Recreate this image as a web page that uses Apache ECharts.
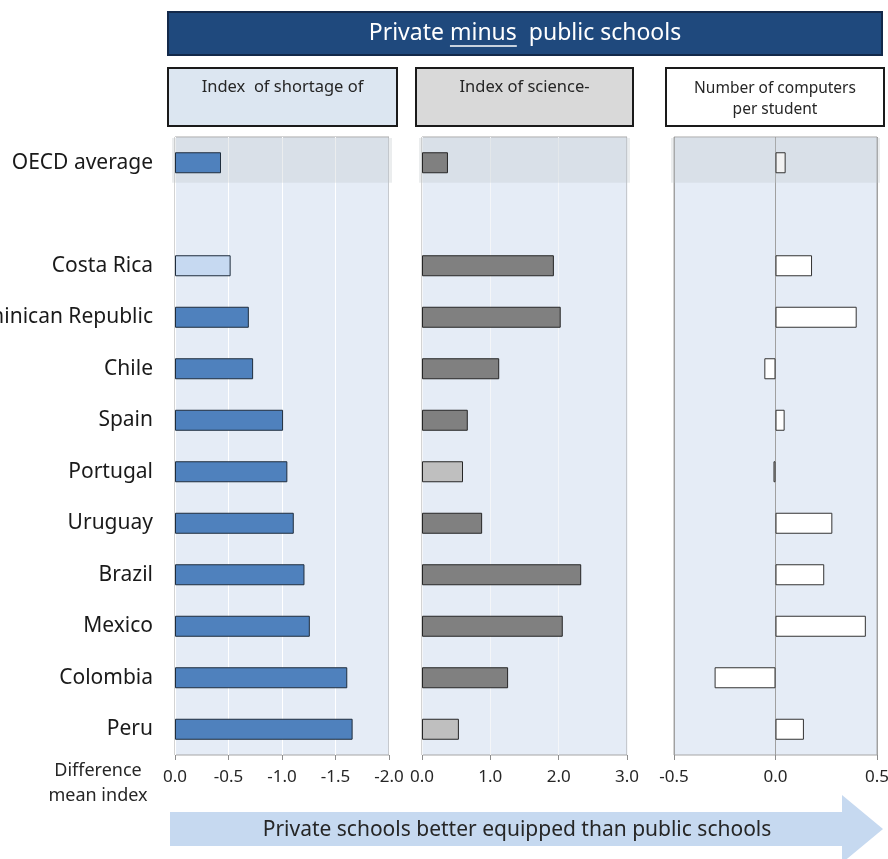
<!DOCTYPE html>
<html>
<head>
<meta charset="utf-8">
<script src="https://cdn.jsdelivr.net/npm/echarts@6/dist/echarts.min.js"></script>
<style>
html,body{margin:0;padding:0;background:#fff;}
#chart{width:888px;height:859px;}
</style>
</head>
<body>
<div id="chart"></div>
<script>
// ---- data ----
var categories = ['OECD average', '', 'Costa Rica', 'Dominican Republic', 'Chile', 'Spain', 'Portugal', 'Uruguay', 'Brazil', 'Mexico', 'Colombia', 'Peru'];
var shortageValues = [-0.43, null, -0.52, -0.69, -0.73, -1.01, -1.05, -1.11, -1.21, -1.26, -1.61, -1.66];
var shortageSignificant = [true, null, false, true, true, true, true, true, true, true, true, true];
var scienceValues = [0.38, null, 1.93, 2.03, 1.13, 0.67, 0.60, 0.88, 2.33, 2.06, 1.26, 0.54];
var scienceSignificant = [true, null, true, true, true, true, false, true, true, true, true, false];
var computerValues = [0.05, null, 0.18, 0.40, -0.055, 0.045, -0.01, 0.28, 0.24, 0.445, -0.30, 0.14];
var panelTitles = ['Index  of shortage of', 'Index of science-', 'Number of computers\nper student'];
var headerParts = ['Private ', 'minus', '  public schools'];
var axisNameText = 'Difference\nmean index';
var arrowText = 'Private schools better equipped than public schools';

// ---- styling ----
var FONT = 'Noto Sans';
var TXT = '#262626';

function fmt(v) { return v.toFixed(1); }

function itemData(values, fn) {
  return values.map(function (v, i) {
    if (v === null) return null;
    return { value: v, itemStyle: fn(i) };
  });
}

var p1Data = itemData(shortageValues, function (i) {
  return { color: shortageSignificant[i] ? '#4f81bd' : '#c6d9f1', borderColor: '#1f2d3d', borderWidth: 1 };
});
var p2Data = itemData(scienceValues, function (i) {
  return { color: scienceSignificant[i] ? '#808080' : '#bfbfbf', borderColor: '#262626', borderWidth: 1 };
});
var p3Data = itemData(computerValues, function (i) {
  return { color: i === 0 ? '#f2f2f2' : '#ffffff', borderColor: '#333333', borderWidth: 1 };
});

var grids = [
  { left: 175, top: 137, width: 214, height: 618 },
  { left: 422, top: 137, width: 205, height: 618 },
  { left: 674, top: 137, width: 203, height: 618 }
];
grids.forEach(function (g) {
  g.show = true; g.backgroundColor = '#e5ecf6'; g.borderColor = '#a6a6a6'; g.borderWidth = 1;
  g.containLabel = false; g.outerBoundsMode = 'none';
});

function xAxisCfg(idx, min, max, interval, inverse, splitColor) {
  return {
    type: 'value', gridIndex: idx, min: min, max: max, interval: interval, inverse: inverse,
    axisLine: { show: false },
    axisTick: { show: true, length: 5, lineStyle: { color: '#8c8c8c' } },
    axisLabel: { formatter: fmt, fontFamily: FONT, fontSize: 17, color: TXT, margin: 14, showMinLabel: true, showMaxLabel: true, hideOverlap: false },
    splitLine: { show: true, lineStyle: { color: splitColor, width: 1 } }
  };
}

function yAxisCfg(idx, showLabels, showLine) {
  return {
    type: 'category', gridIndex: idx, data: categories, inverse: true,
    axisTick: { show: false },
    axisLine: { show: showLine, onZero: true, lineStyle: { color: '#9a9a9a', width: 1.5 } },
    axisLabel: showLabels ? { show: true, fontFamily: FONT, fontSize: 21, color: '#1a1a1a', margin: 22, interval: 0 } : { show: false },
    splitLine: { show: false }
  };
}

function bandSeries(idx) {
  return {
    type: 'custom', xAxisIndex: idx, yAxisIndex: idx, silent: true, z: 1, clip: false,
    data: [[0]],
    renderItem: function (params, api) {
      var cs = params.coordSys;
      var center = api.coord([0, api.value(0)]);
      var band = api.size([0, 1])[1];
      var y0 = cs.y + 1;
      var y1 = center[1] + band * 0.39;
      return { type: 'rect', shape: { x: cs.x - 3, y: y0, width: cs.width + 6, height: y1 - y0 },
        style: { fill: 'rgba(190,195,200,0.3)' } };
    }
  };
}

function barSeries(idx, data) {
  return { type: 'bar', xAxisIndex: idx, yAxisIndex: idx, data: data, barWidth: 21, z: 3, silent: true };
}

// measure header for underline
var mctx = document.createElement('canvas').getContext('2d');
var HFONT = '23px "' + FONT + '"';
mctx.font = HFONT;
var wA = mctx.measureText(headerParts[0]).width;
var wB = mctx.measureText(headerParts[1]).width;
var wAll = mctx.measureText(headerParts.join('')).width;
var hCx = 168 + 714 / 2;
var hStart = hCx - wAll / 2;

var boxes = [
  { x: 168, w: 229, fill: '#dce6f1' },
  { x: 416, w: 217, fill: '#d9d9d9' },
  { x: 666, w: 218, fill: '#ffffff' }
];

var graphics = [
  { type: 'rect', shape: { x: 168, y: 12, width: 714, height: 43 }, style: { fill: '#1f497d', stroke: '#13294a', lineWidth: 2 }, z: 10 },
  { type: 'text', x: hCx, y: 33.5, style: { text: headerParts.join(''), font: HFONT, fill: '#ffffff', align: 'center', verticalAlign: 'middle' }, z: 11 },
  { type: 'line', shape: { x1: hStart + wA, y1: 46, x2: hStart + wA + wB, y2: 46 }, style: { stroke: '#ffffff', lineWidth: 1.5 }, z: 11 }
];
boxes.forEach(function (b, i) {
  graphics.push({ type: 'rect', shape: { x: b.x, y: 68, width: b.w, height: 58 }, style: { fill: b.fill, stroke: '#1a1a1a', lineWidth: 2 }, z: 10 });
  var multi = panelTitles[i].indexOf('\n') >= 0;
  graphics.push({ type: 'text', x: b.x + b.w / 2, y: multi ? 78 : 77,
    style: { text: panelTitles[i], fontFamily: FONT, fontSize: multi ? 15.5 : 16.5, lineHeight: 21, fill: TXT, align: 'center', verticalAlign: 'top' }, z: 11 });
});
graphics.push({ type: 'text', x: 98, y: 783, style: { text: axisNameText, fontFamily: FONT, fontSize: 18, lineHeight: 25, fill: TXT, align: 'center', verticalAlign: 'middle' }, z: 11 });
graphics.push({ type: 'polygon', shape: { points: [[170, 812], [842, 812], [842, 795], [883, 829], [842, 863], [842, 846], [170, 846]] },
  style: { fill: '#c6d9f0' }, z: 9 });
graphics.push({ type: 'text', x: 517, y: 830, style: { text: arrowText, fontFamily: FONT, fontSize: 21, fill: TXT, align: 'center', verticalAlign: 'middle' }, z: 11 });

var chart = echarts.init(document.getElementById('chart'), null, { renderer: 'canvas' });
chart.setOption({
  animation: false,
  backgroundColor: '#ffffff',
  grid: grids,
  xAxis: [
    xAxisCfg(0, -2, 0, 0.5, true, '#ffffff'),
    xAxisCfg(1, 0, 3, 1, false, '#f4f6f9'),
    xAxisCfg(2, -0.5, 0.5, 0.5, false, '#a0a0a0')
  ],
  yAxis: [
    yAxisCfg(0, true, false),
    yAxisCfg(1, false, false),
    yAxisCfg(2, false, false)
  ],
  series: [
    bandSeries(0), bandSeries(1), bandSeries(2),
    barSeries(0, p1Data), barSeries(1, p2Data), barSeries(2, p3Data)
  ],
  graphic: graphics
});
</script>
</body>
</html>
